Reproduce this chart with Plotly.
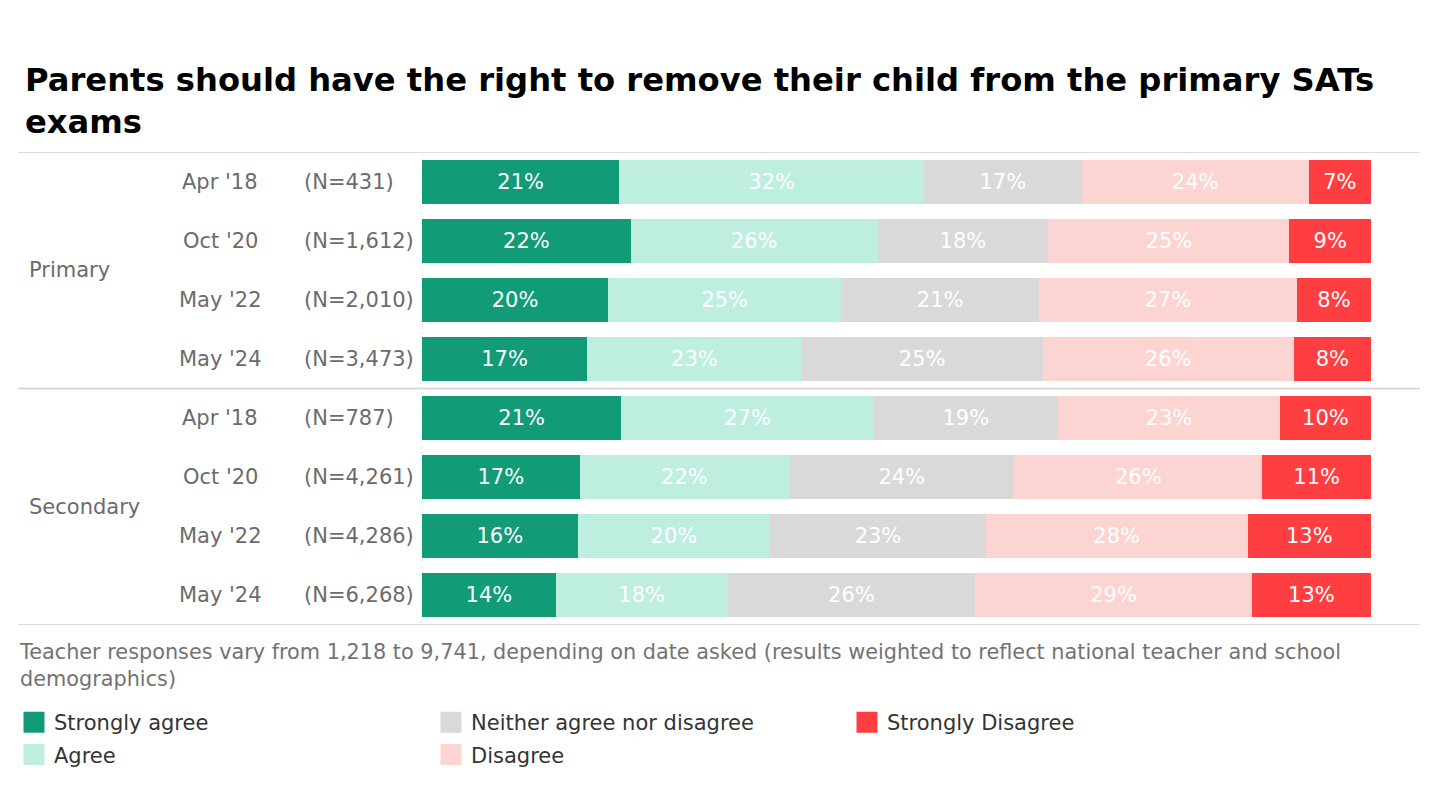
import plotly.graph_objects as go

# ---------------- data ----------------
groups = ["Primary"] * 4 + ["Secondary"] * 4
dates = ["Apr '18", "Oct '20", "May '22", "May '24"] * 2
n_labels = ["(N=431)", "(N=1,612)", "(N=2,010)", "(N=3,473)",
            "(N=787)", "(N=4,261)", "(N=4,286)", "(N=6,268)"]

strongly_agree = [20.8, 22.0, 19.6, 17.4, 21.0, 16.6, 16.4, 14.1]
agree = [32.1, 26.0, 24.6, 22.6, 26.6, 22.1, 20.3, 18.1]
neither = [16.6, 18.0, 20.8, 25.4, 19.4, 23.7, 22.7, 26.1]
disagree = [23.95, 25.4, 27.2, 26.45, 23.4, 26.15, 27.6, 29.15]
strongly_disagree = [6.55, 8.6, 7.8, 8.15, 9.6, 11.45, 13.0, 12.55]

series_names = ["Strongly agree", "Agree", "Neither agree nor disagree",
                "Disagree", "Strongly Disagree"]
series_values = [strongly_agree, agree, neither, disagree, strongly_disagree]
series_colors = ["#119b77", "#bdeee0", "#d9d9d9", "#fcd5d3", "#fe3e41"]
series_legend = ["legend", "legend", "legend2", "legend2", "legend3"]

title_text = ("Parents should have the right to remove their child from the primary SATs"
              "<br>exams")
footnote = ("Teacher responses vary from 1,218 to 9,741, depending on date asked "
            "(results weighted to reflect national teacher and school<br>demographics)")

# ---------------- figure ----------------
FONT = "DejaVu Sans"
FS = 21
OFF = 8  # page body margin of the html output
W, H = 1440 - OFF, 800 - OFF
# plot area in page pixels
PX0, PX1, PY0, PY1 = 422, 1371, 152, 625
L, R, T, B = PX0 - OFF, W - (PX1 - OFF), PY0 - OFF, H - (PY1 - OFF)
PW = PX1 - PX0
PH = PY1 - PY0

def px_x(x):
    return (x - PX0) / PW

def px_y(y):
    return (PY1 - y) / PH

row_keys = [f"{g} {d}" for g, d in zip(groups, dates)]

fig = go.Figure()
for name, vals, col, lg in zip(series_names, series_values, series_colors, series_legend):
    fig.add_trace(go.Bar(
        y=row_keys, x=vals, orientation="h", name=name,
        marker=dict(color=col, line=dict(width=0)),
        text=vals, texttemplate="%{x:.0f}%", textposition="inside",
        insidetextanchor="middle", textangle=0, constraintext="none",
        insidetextfont=dict(family=FONT, size=FS, color="#ffffff"),
        showlegend=False, hoverinfo="skip",
    ))
    # legend entry
    fig.add_trace(go.Scatter(
        x=[None], y=[None], mode="markers", name=name, legend=lg,
        legendgroup=name,
        marker=dict(symbol="square", size=16, color=col,
                    line=dict(width=5, color=col)),
        showlegend=True, hoverinfo="skip",
    ))

annotations = []
for i, (d, n) in enumerate(zip(dates, n_labels)):
    annotations.append(dict(x=px_x(220), xref="paper", y=i, yref="y",
                            text=d, showarrow=False, xanchor="center", yanchor="middle",
                            font=dict(family=FONT, size=FS, color="#6b6b6b")))
    annotations.append(dict(x=px_x(302), xref="paper", y=i, yref="y",
                            text=n, showarrow=False, xanchor="left", yanchor="middle",
                            font=dict(family=FONT, size=FS, color="#6b6b6b")))
for gname, pos in [("Primary", 1.5), ("Secondary", 5.5)]:
    annotations.append(dict(x=px_x(27), xref="paper", y=pos, yref="y",
                            text=gname, showarrow=False, xanchor="left", yanchor="middle",
                            font=dict(family=FONT, size=FS, color="#6b6b6b")))
annotations.append(dict(x=px_x(17), xref="paper", y=px_y(665), yref="paper",
                        text=footnote, showarrow=False, align="left",
                        xanchor="left", yanchor="middle",
                        font=dict(family=FONT, size=20.8, color="#737373")))

shapes = []
for yv in [-0.5, 3.5, 7.5]:
    shapes.append(dict(type="line", xref="paper", yref="y",
                       x0=px_x(18), x1=px_x(1420), y0=yv, y1=yv,
                       line=dict(color="#d0d0d0", width=1.5), layer="below"))
shapes.append(dict(type="line", xref="paper", yref="y", x0=0, x1=0, y0=-0.5, y1=7.5,
                   line=dict(color="#e6e6e6", width=1, dash="dot"), layer="below"))

leg_common = dict(orientation="v", xanchor="left", yanchor="top",
                  font=dict(family=FONT, size=FS, color="#333333"),
                  bgcolor="rgba(0,0,0,0)", borderwidth=0, tracegroupgap=2,
                  itemclick=False, itemdoubleclick=False)
leg_y = px_y(702)

fig.update_layout(
    width=W, height=H,
    margin=dict(l=L, r=R, t=T, b=B, autoexpand=False),
    paper_bgcolor="#ffffff", plot_bgcolor="#ffffff",
    barmode="stack", bargap=0.255,
    font=dict(family=FONT, size=FS, color="#6b6b6b"),
    title=dict(text=f"<b>{title_text}</b>", x=(25 - OFF) / W, xanchor="left", xref="container",
               y=1 - 83 / H, yanchor="top", yref="container",
               font=dict(family=FONT, size=32.2, color="#000000")),
    xaxis=dict(range=[0, 100], visible=False, showgrid=False, zeroline=False, fixedrange=True),
    yaxis=dict(type="category", categoryorder="array", categoryarray=row_keys,
               range=[7.5, -0.5], showticklabels=False, showgrid=False,
               zeroline=False, showline=False, ticks="", fixedrange=True),
    legend=dict(x=px_x(14), y=leg_y, **leg_common),
    legend2=dict(x=px_x(431), y=leg_y, **leg_common),
    legend3=dict(x=px_x(847), y=leg_y, **leg_common),
    annotations=annotations,
    shapes=shapes,
)

fig.write_html("out.html")
